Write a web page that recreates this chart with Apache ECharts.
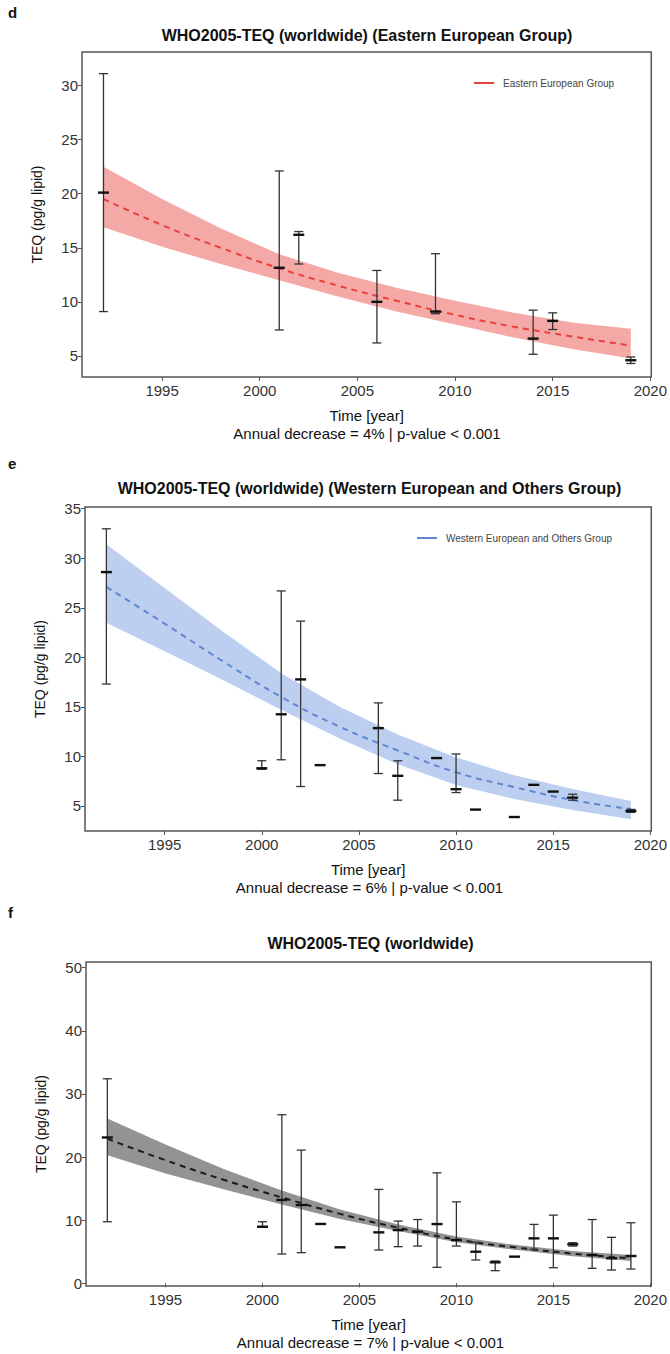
<!DOCTYPE html>
<html>
<head>
<meta charset="utf-8">
<script src="https://cdn.jsdelivr.net/npm/echarts@6/dist/echarts.min.js"></script>
<style>
  html, body { margin: 0; padding: 0; background: #fff; }
  #chart { width: 670px; height: 1354px; }
</style>
</head>
<body>
<div id="chart"></div>
<script>
// fitted curve + confidence band, read at these years
const fitYears = [1992, 1995, 1998, 2001, 2004, 2007, 2010, 2013, 2016, 2019]

const fitD = [19.5, 17.1, 15.0, 13.1, 11.5, 10.1, 8.8, 7.7, 6.8, 5.95]
const upperD = [22.5, 19.5, 16.8, 14.4, 12.7, 11.3, 10.1, 9.0, 8.1, 7.5]
const lowerD = [16.9, 15.1, 13.5, 12.0, 10.5, 9.1, 7.9, 6.7, 5.65, 4.75]

const fitE = [27.1, 23.4, 19.6, 16.0, 13.0, 10.6, 8.4, 6.9, 5.6, 4.68]
const upperE = [31.4, 27.0, 22.6, 18.4, 15.0, 12.2, 9.9, 8.1, 6.7, 5.5]
const lowerE = [23.5, 20.6, 17.7, 14.7, 11.8, 9.2, 7.1, 5.7, 4.6, 3.65]

const fitF = [22.9, 19.5, 16.4, 13.6, 11.0, 8.8, 6.95, 5.7, 4.7, 3.96]
const upperF = [26.1, 22.0, 18.1, 14.7, 11.7, 9.3, 7.4, 6.1, 5.1, 4.5]
const lowerF = [20.3, 17.4, 14.9, 12.5, 10.2, 8.3, 6.5, 5.3, 4.3, 3.55]

// observed means with error bars (null = no bar drawn)
const yearsD = [1992, 2001, 2002, 2006, 2009, 2014, 2015, 2019]
const meanD = [20.1, 13.15, 16.2, 10.0, 9.1, 6.6, 8.24, 4.6]
const lowD = [9.1, 7.4, 13.5, 6.2, 8.9, 5.15, 7.44, 4.3]
const highD = [31.1, 22.1, 16.5, 12.9, 14.45, 9.23, 8.98, 4.9]

const yearsE = [1992, 2000, 2001, 2002, 2003, 2006, 2007, 2009, 2010, 2011, 2013, 2014, 2015, 2016, 2019]
const meanE = [28.6, 8.8, 14.25, 17.77, 9.12, 12.85, 8.04, 9.83, 6.69, 4.63, 3.88, 7.13, 6.45, 5.84, 4.49]
const lowE = [17.3, 8.7, 9.66, 6.96, null, 8.27, 5.58, null, 6.35, null, null, null, null, 5.58, 4.35]
const highE = [32.97, 9.56, 26.7, 23.65, null, 15.4, 9.56, null, 10.24, null, null, null, null, 6.18, 4.65]

const yearsF = [1992, 2000, 2001, 2002, 2003, 2004, 2006, 2007, 2008, 2009, 2010, 2011, 2012, 2013, 2014, 2015, 2016, 2017, 2018, 2019]
const meanF = [23.1, 8.96, 13.2, 12.4, 9.4, 5.7, 8.07, 8.43, 8.17, 9.38, 6.85, 5.0, 3.32, 4.22, 7.12, 7.12, 6.17, 4.48, 3.96, 4.32]
const lowF = [9.75, 8.9, 4.64, 4.85, null, null, 5.27, 5.8, 5.9, 2.53, 5.9, 3.69, 2.0, null, 5.38, 2.47, 5.9, 2.37, 2.1, 2.26]
const highF = [32.4, 9.75, 26.7, 21.1, null, null, 14.87, 9.86, 10.1, 17.5, 12.9, 6.49, 3.53, null, 9.33, 10.8, 6.43, 10.1, 7.28, 9.59]

// tick labels
const xTicks = [1995, 2000, 2005, 2010, 2015, 2020]
const yTicksD = [5, 10, 15, 20, 25, 30]
const yTicksE = [5, 10, 15, 20, 25, 30, 35]
const yTicksF = [0, 10, 20, 30, 40, 50]

const FONT = 'Liberation Sans, Arial, sans-serif'

const panels = [
  {
    letter: 'd', letterTop: 5, title: 'WHO2005-TEQ (worldwide) (Eastern European Group)',
    note: 'Annual decrease = 4% | p-value < 0.001',
    legend: 'Eastern European Group', legendLeft: 469,
    grid: { left: 82, top: 52, width: 570, height: 325 },
    yMin: 3.05, yMax: 33.1, yTicks: yTicksD,
    fit: fitD, upper: upperD, lower: lowerD,
    years: yearsD, mean: meanD, low: lowD, high: highD,
    lineColor: '#e8403c', bandColor: '#f4a9a7'
  },
  {
    letter: 'e', letterTop: 456, title: 'WHO2005-TEQ (worldwide) (Western European and Others Group)',
    note: 'Annual decrease = 6% | p-value < 0.001',
    legend: 'Western European and Others Group', legendLeft: 412,
    grid: { left: 85, top: 507, width: 569, height: 324 },
    yMin: 2.47, yMax: 35.17, yTicks: yTicksE,
    fit: fitE, upper: upperE, lower: lowerE,
    years: yearsE, mean: meanE, low: lowE, high: highE,
    lineColor: '#5f88d0', bandColor: '#bccff0'
  },
  {
    letter: 'f', letterTop: 905, title: 'WHO2005-TEQ (worldwide)',
    note: 'Annual decrease = 7% | p-value < 0.001',
    legend: null,
    grid: { left: 86, top: 962, width: 569, height: 324 },
    yMin: -0.43, yMax: 50.9, yTicks: yTicksF,
    fit: fitF, upper: upperF, lower: lowerF,
    years: yearsF, mean: meanF, low: lowF, high: highF,
    lineColor: '#1a1a1a', bandColor: '#939393'
  }
]

function errorBar(params, api) {
  const x = api.value(0)
  const m = api.value(1)
  const lo = api.value(2)
  const hi = api.value(3)
  const children = []
  if (!isNaN(lo) && !isNaN(hi)) {
    const a = api.coord([x, lo])
    const b = api.coord([x, hi])
    const st = { stroke: '#333', lineWidth: 1.3 }
    children.push({ type: 'line', shape: { x1: a[0], y1: a[1], x2: b[0], y2: b[1] }, style: st })
    children.push({ type: 'line', shape: { x1: a[0] - 4.5, y1: a[1], x2: a[0] + 4.5, y2: a[1] }, style: st })
    children.push({ type: 'line', shape: { x1: b[0] - 4.5, y1: b[1], x2: b[0] + 4.5, y2: b[1] }, style: st })
  }
  const p = api.coord([x, m])
  children.push({
    type: 'line',
    shape: { x1: p[0] - 5.5, y1: p[1], x2: p[0] + 5.5, y2: p[1] },
    style: { stroke: '#111', lineWidth: 2.4 }
  })
  return { type: 'group', children }
}

// whole ribbon drawn once, from every row of the series
function bandItem(color) {
  return function (params, api) {
    if (params.dataIndexInside !== 0) return null
    const n = params.dataInsideLength
    const top = []
    const bot = []
    for (let j = 0; j < n; j++) {
      const x = api.value(0, j)
      top.push(api.coord([x, api.value(2, j)]))
      bot.unshift(api.coord([x, api.value(1, j)]))
    }
    return {
      type: 'polygon',
      shape: { points: top.concat(bot) },
      style: { fill: color, stroke: null }
    }
  }
}

const grid = []
const xAxis = []
const yAxis = []
const series = []
const legend = []
const graphic = []

panels.forEach((p, i) => {
  const g = p.grid
  grid.push(Object.assign({ show: true, borderColor: '#555', borderWidth: 1.5, backgroundColor: 'transparent' }, g))
  xAxis.push({
    gridIndex: i,
    type: 'value',
    min: 1990.9,
    max: 2020.05,
    axisLine: { show: false },
    axisTick: { show: true, customValues: xTicks, length: 4, lineStyle: { color: '#555' } },
    axisLabel: { customValues: xTicks, fontSize: 15, color: '#333', margin: 6, fontFamily: FONT, formatter: v => String(v) },
    splitLine: { show: false },
    name: 'Time [year]',
    nameLocation: 'middle',
    nameGap: 31,
    nameTextStyle: { fontSize: 15, color: '#111', fontFamily: FONT }
  })
  yAxis.push({
    gridIndex: i,
    type: 'value',
    min: p.yMin,
    max: p.yMax,
    axisLine: { show: false },
    axisTick: { show: true, customValues: p.yTicks, length: 4, lineStyle: { color: '#555' } },
    axisLabel: { customValues: p.yTicks, fontSize: 15, color: '#333', margin: 4, fontFamily: FONT },
    splitLine: { show: false },
    name: 'TEQ (pg/g lipid)',
    nameLocation: 'middle',
    nameGap: 38,
    nameTextStyle: { fontSize: 14, color: '#111', fontFamily: FONT }
  })

  series.push({
    type: 'custom', name: 'band-' + i, xAxisIndex: i, yAxisIndex: i, z: 1,
    silent: true,
    renderItem: bandItem(p.bandColor),
    encode: { x: 0, y: [1, 2] },
    data: fitYears.map((y, k) => [y, p.lower[k], p.upper[k]])
  })
  series.push({
    type: 'line', name: p.legend || 'fit-' + i, xAxisIndex: i, yAxisIndex: i,
    smooth: true, symbol: 'none', z: 3,
    color: p.lineColor,
    itemStyle: { color: p.lineColor },
    lineStyle: { color: p.lineColor, width: 2, type: [6, 5] },
    data: fitYears.map((y, k) => [y, p.fit[k]])
  })
  series.push({
    type: 'custom', name: 'obs-' + i, xAxisIndex: i, yAxisIndex: i, z: 4,
    renderItem: errorBar,
    encode: { x: 0, y: 1 },
    data: p.years.map((y, k) => [y, p.mean[k], p.low[k], p.high[k]])
  })

  if (p.legend) {
    legend.push({
      data: [p.legend],
      icon: 'rect',
      itemWidth: 20,
      itemHeight: 2,
      left: p.legendLeft,
      top: g.top + 21,
      textStyle: { fontSize: 10, color: '#444', fontFamily: FONT, padding: [0, 0, 0, 4] }
    })
  }

  const cx = g.left + g.width / 2
  graphic.push({
    type: 'text', left: 8, top: p.letterTop,
    style: { text: p.letter, font: 'bold 15px ' + FONT, fill: '#111' }
  })
  graphic.push({
    type: 'text', x: cx, y: g.top - (i === 0 ? 17 : 19),
    style: { text: p.title, font: 'bold 16px ' + FONT, fill: '#111', textAlign: 'center', textVerticalAlign: 'middle' }
  })
  graphic.push({
    type: 'text', x: cx, y: g.top + g.height + 56,
    style: { text: p.note, font: '15px ' + FONT, fill: '#111', textAlign: 'center', textVerticalAlign: 'middle' }
  })
})

const option = {
  animation: false,
  backgroundColor: '#fff',
  grid: grid,
  xAxis: xAxis,
  yAxis: yAxis,
  legend: legend,
  graphic: graphic,
  series: series
}

const myChart = echarts.init(document.getElementById('chart'), null, { renderer: 'svg' })
myChart.setOption(option, true)
window.addEventListener('resize', () => {
  myChart.resize()
})
</script>
</body>
</html>
